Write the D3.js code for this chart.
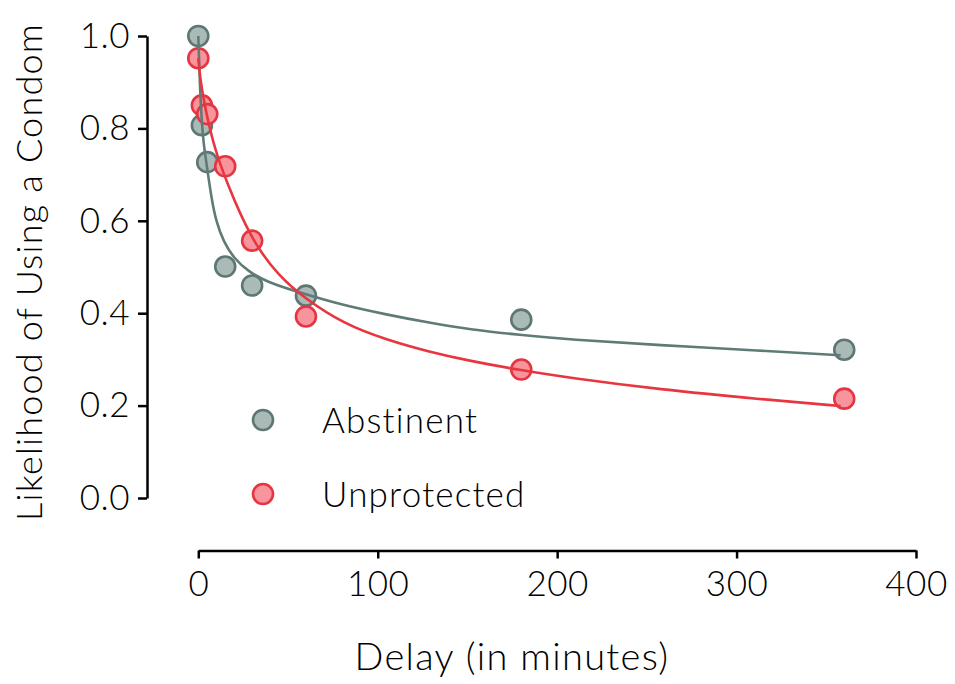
<!DOCTYPE html>
<html>
<head>
<meta charset="utf-8">
<script src="https://cdn.jsdelivr.net/npm/d3@7"></script>
<style>
  html, body { margin: 0; padding: 0; background: #fff; }
  svg { display: block; font-family: "Lato", "Open Sans", sans-serif; font-weight: 300; }
</style>
</head>
<body>
<div id="chart"></div>
<script>
// observed delays (minutes) and likelihoods
const delays = [0, 2, 5, 15, 30, 60, 180, 360];
const abstinent = [1.0, 0.807, 0.727, 0.501, 0.46, 0.438, 0.386, 0.321];
const unprotected = [0.952, 0.85, 0.831, 0.718, 0.557, 0.393, 0.278, 0.215];

// fitted curves: [delay, value]
const abstinentFit = [
  [0, 1.0], [1, 0.88], [2, 0.81], [3, 0.765], [5, 0.712], [7.5, 0.645],
  [10, 0.598], [14, 0.555], [20, 0.518], [28, 0.49], [38, 0.468],
  [57, 0.444], [80, 0.418], [105, 0.397], [129, 0.379], [151, 0.365],
  [179, 0.353], [207, 0.343], [257, 0.331], [313, 0.319], [358, 0.309]
];
const unprotectedFit = [
  [0, 0.952], [1, 0.91], [3, 0.86], [8, 0.77], [15, 0.69], [30, 0.555],
  [45, 0.48], [60, 0.43], [81, 0.377], [105, 0.342], [129, 0.316],
  [151, 0.297], [179, 0.277], [207, 0.26], [257, 0.235], [313, 0.214], [358, 0.199]
];

const xTicks = [0, 100, 200, 300, 400];
const yTicks = [0.0, 0.2, 0.4, 0.6, 0.8, 1.0];

const width = 955;
const height = 684;

const theme = {
  grayFill: "#a9bab7",
  grayStroke: "#5d7774",
  grayLine: "#5f7b77",
  redFill: "#f7949c",
  redStroke: "#e63442",
  redLine: "#e8353f",
  text: "#000",
};

const series = [
  { name: "Abstinent", values: abstinent, fit: abstinentFit,
    fill: theme.grayFill, stroke: theme.grayStroke, line: theme.grayLine },
  { name: "Unprotected", values: unprotected, fit: unprotectedFit,
    fill: theme.redFill, stroke: theme.redStroke, line: theme.redLine },
];

const svg = d3
  .select("#chart")
  .append("svg")
  .attr("width", width)
  .attr("height", height);

// scales
const x = d3.scaleLinear().domain([0, 400]).range([198.3, 916]);
const y = d3.scaleLinear().domain([0, 1]).range([498, 36]);

// y axis
const yAxis = svg
  .append("g")
  .attr("transform", "translate(147,0)")
  .call(
    d3.axisLeft(y)
      .tickValues(yTicks)
      .tickFormat(d3.format(".1f"))
      .tickSize(9)
      .tickSizeOuter(0)
      .tickPadding(8)
  );

// x axis
const xAxis = svg
  .append("g")
  .attr("transform", "translate(0,550.5)")
  .call(
    d3.axisBottom(x)
      .tickValues(xTicks)
      .tickSize(8)
      .tickSizeOuter(0)
      .tickPadding(12)
  );

[yAxis, xAxis].forEach((g) => {
  g.select(".domain").attr("stroke", theme.text).attr("stroke-width", 2.5);
  g.selectAll(".tick line").attr("stroke", theme.text).attr("stroke-width", 2.5);
  g.selectAll(".tick text")
    .attr("fill", theme.text)
    .style("font-family", "Lato, sans-serif")
    .style("font-weight", "300")
    .style("font-size", "35px")
    .style("letter-spacing", "0.5px");
});
xAxis.selectAll(".tick text").attr("dy", "0.72em");

// axis titles
svg
  .append("text")
  .attr("transform", "translate(42,272) rotate(-90)")
  .attr("text-anchor", "middle")
  .style("font-size", "36px")
  .style("letter-spacing", "1.2px")
  .attr("fill", theme.text)
  .text("Likelihood of Using a Condom");

svg
  .append("text")
  .attr("x", 512)
  .attr("y", 670)
  .attr("text-anchor", "middle")
  .style("font-size", "38px")
  .style("letter-spacing", "1.3px")
  .attr("fill", theme.text)
  .text("Delay (in minutes)");

// points
series.forEach((s) => {
  svg
    .append("g")
    .selectAll("circle")
    .data(s.values)
    .join("circle")
    .attr("cx", (d, i) => x(delays[i]))
    .attr("cy", (d) => y(d))
    .attr("r", 10)
    .attr("fill", s.fill)
    .attr("stroke", s.stroke)
    .attr("stroke-width", 2.6);
});

// fitted lines on top
const line = d3
  .line()
  .x((d) => x(d[0]))
  .y((d) => y(d[1]))
  .curve(d3.curveBasis);

series.forEach((s) => {
  svg
    .append("path")
    .datum(s.fit)
    .attr("d", line)
    .attr("fill", "none")
    .attr("stroke", s.line)
    .attr("stroke-width", 2.6);
});

// legend
const legend = svg
  .selectAll(".legend-item")
  .data(series)
  .join("g")
  .attr("class", "legend-item")
  .attr("transform", (d, i) => `translate(263, ${420 + i * 74})`);

legend
  .append("circle")
  .attr("r", 10)
  .attr("fill", (d) => d.fill)
  .attr("stroke", (d) => d.stroke)
  .attr("stroke-width", 2.6);

legend
  .append("text")
  .attr("x", 59)
  .attr("dy", "0.36em")
  .style("font-size", "35px")
  .style("letter-spacing", "1.2px")
  .attr("fill", theme.text)
  .text((d) => d.name);
</script>
</body>
</html>
